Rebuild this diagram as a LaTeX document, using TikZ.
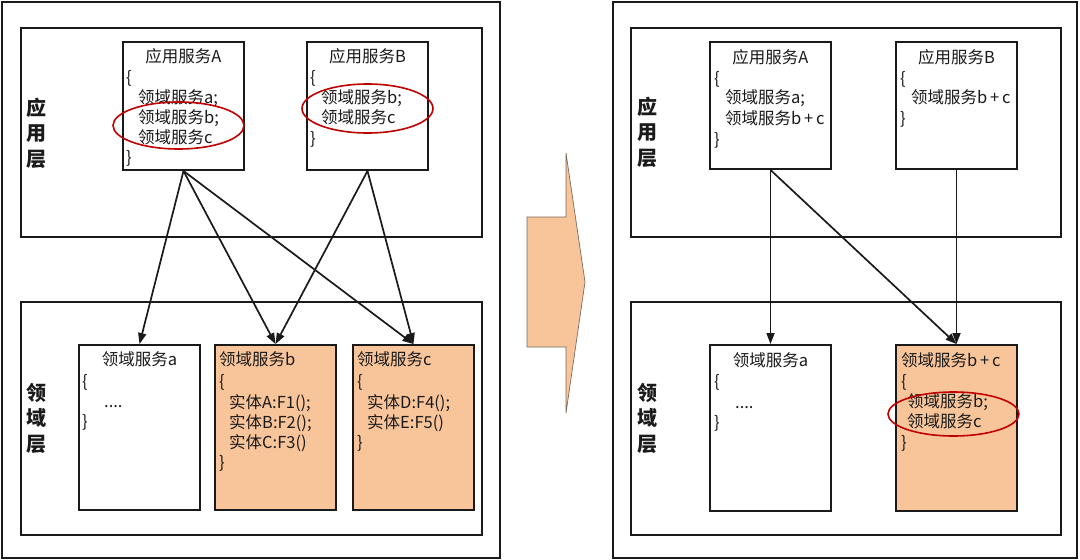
\documentclass[tikz,border=0pt]{standalone}
\usepackage{fontspec}
\setmainfont{Noto Sans CJK SC}
\usetikzlibrary{arrows.meta,shapes.geometric}
\definecolor{ink}{HTML}{1A1A1A}
\definecolor{peach}{HTML}{F8C49A}
\definecolor{redline}{HTML}{C00000}
\definecolor{arrowedge}{HTML}{7A6A60}
\tikzset{
  frame/.style={draw=ink,line width=1.9pt},
  svcbox/.style={draw=ink,line width=1.9pt,rectangle,inner sep=0pt,minimum width=121,fill=white},
  domfill/.style={fill=peach},
  txt/.style={inner sep=0pt,text=ink,font=\fontsize{16.5}{20}\selectfont},
  layerlbl/.style={inner sep=0pt,text=ink,align=center,font=\fontsize{20}{25.5}\selectfont\bfseries},
  hilite/.style={draw=redline,line width=1.6pt,ellipse,inner sep=0pt},
  conn/.style={draw=ink,line width=1.7pt,-{Triangle[length=11pt,width=8pt]}}
}
\newcommand{\tl}[4]{\node[txt,anchor=base west] (#1) at (#2,#3+5.5) {#4};}
\newcommand{\tc}[4]{\node[txt,anchor=base] (#1) at (#2,#3+5.5) {#4};}
\begin{document}
\begin{tikzpicture}[x=1pt,y=-1pt]
\useasboundingbox (0,0) rectangle (1080,560);
% ---------- left side ----------
\draw[frame] (2,2) rectangle (500,558);
\draw[frame] (21,28) rectangle (482,237);
\draw[frame] (21,302) rectangle (482,535);
\node[layerlbl] (lblAppL) at (37,133) {应\\用\\层};
\node[layerlbl] (lblDomL) at (37,418) {领\\域\\层};

\node[svcbox,minimum height=128] (appAL) at (183.5,106) {};
\node[svcbox,minimum height=128] (appBL) at (367.5,106) {};
\node[svcbox,minimum height=165] (domaL) at (139.5,427.5) {};
\node[svcbox,domfill,minimum height=165] (dombL) at (275.5,427.5) {};
\node[svcbox,domfill,minimum height=165] (domcL) at (413.5,427.5) {};

% texts app A
\tc{aLt}{183.5}{57}{应用服务A}
\tl{aLo}{126}{78}{\{}
\tl{aL1}{138}{97.5}{领域服务a;}
\tl{aL2}{138}{117.5}{领域服务b;}
\tl{aL3}{138}{137.5}{领域服务c}
\tl{aLc}{126}{158}{\}}
% app B
\tc{bLt}{367.5}{57}{应用服务B}
\tl{bLo}{310}{78}{\{}
\tl{bL1}{321}{97.5}{领域服务b;}
\tl{bL2}{321}{117.5}{领域服务c}
\tl{bLc}{310}{139}{\}}
% domain a
\tc{daLt}{139.5}{360}{领域服务a}
\tl{daLo}{82}{382}{\{}
\tl{daL1}{104}{402}{....}
\tl{daLc}{82}{422}{\}}
% domain b
\tl{dbLt}{219}{360}{领域服务b}
\tl{dbLo}{219}{382}{\{}
\tl{dbL1}{229}{403}{实体A:F1();}
\tl{dbL2}{229}{423}{实体B:F2();}
\tl{dbL3}{229}{443}{实体C:F3()}
\tl{dbLc}{219}{463}{\}}
% domain c
\tl{dcLt}{357}{360}{领域服务c}
\tl{dcLo}{357}{382}{\{}
\tl{dcL1}{367}{403}{实体D:F4();}
\tl{dcL2}{367}{423}{实体E:F5()}
\tl{dcLc}{357}{443}{\}}

\node[hilite,minimum width=131,minimum height=47] (ellAL) at (178.5,125.5) {};
\node[hilite,minimum width=131,minimum height=49] (ellBL) at (367.5,108.5) {};

\draw[conn] (appAL.south) -- (domaL.north);
\draw[conn] (appAL.south) -- (dombL.north);
\draw[conn] (appAL.south) -- (domcL.north);
\draw[conn] (appBL.south) -- (dombL.north);
\draw[conn] (appBL.south) -- (domcL.north);

% ---------- middle block arrow ----------
\draw[fill=peach,draw=arrowedge,line width=0.7pt]
  (527,217) -- (566,217) -- (566,153) -- (585,282) -- (566,413) -- (566,347) -- (527,347) -- cycle;

% ---------- right side ----------
\draw[frame] (613,2) rectangle (1077,558);
\draw[frame] (631,28) rectangle (1061,237);
\draw[frame] (631,302) rectangle (1061,535);
\node[layerlbl] (lblAppR) at (647,132) {应\\用\\层};
\node[layerlbl] (lblDomR) at (647,418) {领\\域\\层};

\node[svcbox,minimum height=127] (appAR) at (770.5,105.5) {};
\node[svcbox,minimum height=127] (appBR) at (956.5,105.5) {};
\node[svcbox,minimum height=166] (domaR) at (770.5,428) {};
\node[svcbox,domfill,minimum height=166] (dombcR) at (956.5,428) {};

\tc{aRt}{770.5}{58}{应用服务A}
\tl{aRo}{714}{79}{\{}
\tl{aR1}{725}{98}{领域服务a;}
\tl{aR2}{725}{119}{领域服务b\,+\,c}
\tl{aRc}{714}{140}{\}}

\tc{bRt}{956.5}{58}{应用服务B}
\tl{bRo}{900}{79}{\{}
\tl{bR1}{911}{98}{领域服务b\,+\,c}
\tl{bRc}{900}{119}{\}}

\tc{daRt}{770.5}{361}{领域服务a}
\tl{daRo}{714}{382}{\{}
\tl{daR1}{735}{403}{....}
\tl{daRc}{714}{423}{\}}

\tl{dbcRt}{901}{361}{领域服务b\,+\,c}
\tl{dbcRo}{901}{382}{\{}
\tl{dbcR1}{907}{402}{领域服务b;}
\tl{dbcR2}{907}{422}{领域服务c}
\tl{dbcRc}{901}{443}{\}}

\node[hilite,minimum width=131,minimum height=44] (ellR) at (953.5,414) {};

\draw[conn] (appAR.south) -- (domaR.north);
\draw[conn] (appAR.south) -- (dombcR.north);
\draw[conn] (appBR.south) -- (dombcR.north);
\end{tikzpicture}
\end{document}
